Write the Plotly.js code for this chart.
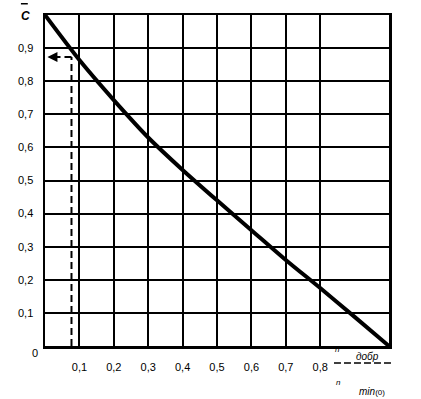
<!DOCTYPE html>
<html><head><meta charset="utf-8">
<script src="https://cdn.plot.ly/plotly-3.0.1.min.js"></script>
<style>html,body{margin:0;padding:0;background:#fff}#c{width:421px;height:399px}</style>
</head><body><div id="c"></div>
<script>
// ratio n_добр / n_min(0)
const xRatio = [0, 0.1, 0.2, 0.3, 0.4, 0.5, 0.6, 0.7, 0.8, 0.9, 1.0];
// C-bar
const cBar = [1.0, 0.864, 0.743, 0.63, 0.532, 0.44, 0.35, 0.26, 0.175, 0.088, 0.0];
// reading example (dashed)
const readX = [0.077];
const readY = [0.873];
const xTickVals = [0.1, 0.2, 0.3, 0.4, 0.5, 0.6, 0.7, 0.8];
const xTickText = ['0,1', '0,2', '0,3', '0,4', '0,5', '0,6', '0,7', '0,8'];
const yTickVals = [0.1, 0.2, 0.3, 0.4, 0.5, 0.6, 0.7, 0.8, 0.9];
const yTickText = ['0,1', '0,2', '0,3', '0,4', '0,5', '0,6', '0,7', '0,8', '0,9'];

const FAM = 'Liberation Sans, Arial, sans-serif';
const font = {family: FAM, size: 11, color: '#000'};

const traces = [
  {x: xRatio, y: cBar, mode: 'lines', line: {color: '#000', width: 4, shape: 'spline', smoothing: 0.8}, hoverinfo: 'skip'},
  {x: [readX[0], readX[0]], y: [0, readY[0]], mode: 'lines', line: {color: '#000', width: 2, dash: '7px,4px'}, hoverinfo: 'skip'},
  {x: [readX[0], 0.03], y: [readY[0], readY[0]], mode: 'lines', line: {color: '#000', width: 2, dash: '7px,4px'}, hoverinfo: 'skip'}
];

const axisCommon = {
  range: [0, 1], showgrid: true, gridcolor: '#000', gridwidth: 2,
  zeroline: false, showline: true, linecolor: '#000', linewidth: 2.5, mirror: true,
  ticks: '', tickmode: 'array', tickfont: font, fixedrange: true
};

const ann = (x, y, xs, ys, text, f, xa) => ({x: x, y: y, xref: 'paper', yref: 'paper', xshift: xs, yshift: ys,
  xanchor: xa || 'center', yanchor: 'middle', showarrow: false, text: text, font: f});

const layout = {
  width: 421, height: 399,
  margin: {l: 45, r: 32, t: 15, b: 53},
  paper_bgcolor: '#fff', plot_bgcolor: '#fff',
  showlegend: false,
  font: font,
  xaxis: Object.assign({}, axisCommon, {tickvals: xTickVals, ticktext: xTickText, ticklabelstandoff: 9}),
  yaxis: Object.assign({}, axisCommon, {tickvals: yTickVals, ticktext: yTickText, ticklabelstandoff: 7}),
  annotations: [
    {x: readX[0] - 0.07, y: readY[0], xref: 'x', yref: 'y', ax: readX[0] - 0.045, ay: readY[0], axref: 'x', ayref: 'y',
     showarrow: true, arrowhead: 2, arrowsize: 1, arrowwidth: 2, arrowcolor: '#000', text: ''},
    ann(0, 0, -10, -7, '0', font),
    ann(0, 1, -20, -1, '<b><i>C</i></b>', {family: FAM, size: 12, color: '#000'}),
    ann(0, 0, 288, -3, '<i>n</i>', {family: FAM, size: 8, color: '#000'}, 'left'),
    ann(0, 0, 322, -10, '<i>добр</i>', {family: FAM, size: 10, color: '#000'}),
    ann(0, 0, 289, -36, '<i>n</i>', {family: FAM, size: 8, color: '#000'}, 'left'),
    ann(0, 0, 327, -45, '<i>min</i><span style="font-size:8px">(0)</span>', {family: FAM, size: 10, color: '#000'})
  ],
  shapes: [
    {type: 'line', xref: 'paper', yref: 'paper', x0: 0.84, x1: 1.01, y0: -0.051, y1: -0.051,
     line: {color: '#000', width: 1.5, dash: '7px,3px'}},
    {type: 'line', xref: 'paper', yref: 'paper', x0: -0.07, x1: -0.05, y0: 1.034, y1: 1.034,
     line: {color: '#000', width: 1.5}}
  ]
};

Plotly.newPlot('c', traces, layout, {staticPlot: true, displayModeBar: false});
</script></body></html>
